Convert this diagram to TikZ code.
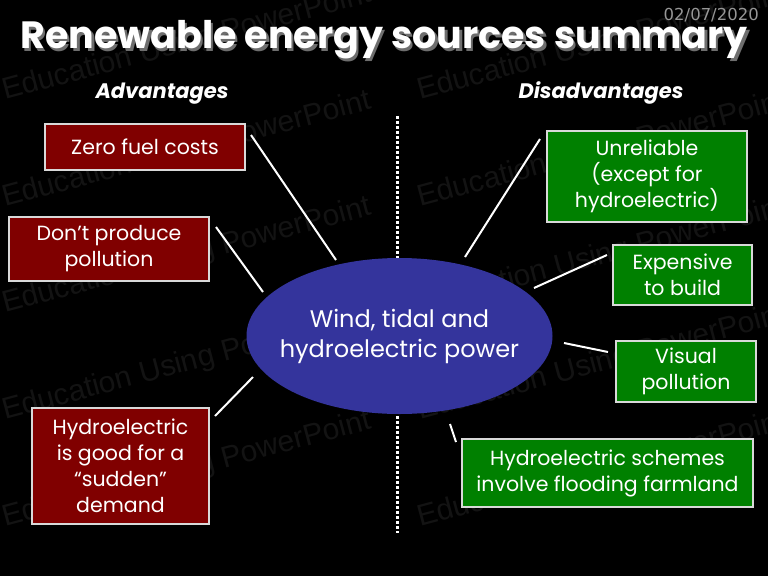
\documentclass[tikz,border=0pt]{standalone}
\usepackage{fontspec}
\setmainfont{Poppins}
\newfontfamily\wmfont{Liberation Sans}
\newfontfamily\datefont{DejaVu Sans}
\usetikzlibrary{calc,shapes.geometric}
\definecolor{boxred}{RGB}{128,0,0}
\definecolor{boxgreen}{RGB}{0,128,0}
\definecolor{ellblue}{RGB}{52,52,156}
\definecolor{wmgray}{RGB}{19,19,19}
\definecolor{dategray}{RGB}{150,150,150}
\definecolor{shadowgray}{RGB}{110,110,110}
\tikzset{
  redbox/.style={draw=white!85!black, line width=2pt, fill=boxred, text=white, align=center, inner sep=0pt, font=\fontsize{20.5}{26}\selectfont},
  greenbox/.style={draw=white!85!black, line width=2pt, fill=boxgreen, text=white, align=center, inner sep=0pt, font=\fontsize{20.5}{26}\selectfont},
  conn/.style={draw=white, line width=2pt},
  heading/.style={text=white, font=\fontsize{21}{25}\selectfont\bfseries\itshape},
  wm/.style={text=wmgray, font=\wmfont\fontsize{30}{30}\selectfont, rotate=15, anchor=base west, inner sep=0pt}
}
\begin{document}
\begin{tikzpicture}[x=1pt,y=-1pt]
\fill[black] (0,0) rectangle (768,576);
\useasboundingbox (0,0) rectangle (768,576);
% watermark
\foreach \wx in {5,420}{
  \foreach \wy in {100,207,313,420,527}{
    \node[wm] at (\wx,\wy) {Education Using PowerPoint};
  }
}
% date
\node[text=dategray, font=\datefont\fontsize{16.5}{16.5}\selectfont, anchor=base east, inner sep=0pt] (date) at (759,20) {02/07/2020};
% title
\node[text=shadowgray, font=\fontsize{38}{40}\selectfont\bfseries, anchor=base, inner sep=0pt] (titleshadow) at (386.5,51) {Renewable energy sources summary};
\node[text=white, font=\fontsize{38}{40}\selectfont\bfseries, anchor=base, inner sep=0pt] (title) at (384,48) {Renewable energy sources summary};
% headings
\node[heading, anchor=base] (adv) at (162,98) {Advantages};
\node[heading, anchor=base] (disadv) at (601,98) {Disadvantages};
% divider
\coordinate (divtop) at (397,116);
\coordinate (divbot) at (397,533);
\draw[white, line width=3pt, dash pattern=on 3pt off 2pt] (divtop) -- (divbot);
% central ellipse
\node[ellipse, fill=ellblue, minimum width=306pt, minimum height=156pt, inner sep=0pt,
  label={[text=white, align=center, font=\fontsize{24}{30}\selectfont, inner sep=0pt]center:Wind, tidal and\\hydroelectric power}] (src) at (399.5,336) {};
% advantage boxes
\node[redbox, minimum width=200pt, minimum height=46pt] (zero) at (145,147) {Zero fuel costs};
\node[redbox, minimum width=200pt, minimum height=64pt] (dont) at (109,249) {Don’t produce\\pollution};
\node[redbox, minimum width=177pt, minimum height=116pt] (sudden) at (120.5,466) {Hydroelectric\\is good for a\\“sudden”\\demand};
% disadvantage boxes
\node[greenbox, minimum width=200pt, minimum height=91pt] (unrel) at (647,176.5) {Unreliable\\(except for\\hydroelectric)};
\node[greenbox, minimum width=139pt, minimum height=60pt] (expens) at (682.5,275) {Expensive\\to build};
\node[greenbox, minimum width=140pt, minimum height=61pt] (visual) at (686,371.5) {Visual\\pollution};
\node[greenbox, minimum width=291pt, minimum height=68pt] (flood) at (607.5,473) {Hydroelectric schemes\\involve flooding farmland};
% connectors
\draw[conn] ($(zero.east)+(5,-12)$) -- ($(src.center)+(-63.5,-76)$);
\draw[conn] ($(dont.east)+(6,-22)$) -- ($(src.center)+(-136.5,-44)$);
\draw[conn] ($(sudden.north east)+(5,9)$) -- ($(src.center)+(-146.5,41)$);
\draw[conn] ($(unrel.west)+(-6,-37.5)$) -- ($(src.center)+(65.5,-79)$);
\draw[conn] ($(expens.west)+(-5,-20)$) -- ($(src.center)+(134.5,-48)$);
\draw[conn] ($(visual.west)+(-7,-19.5)$) -- ($(src.center)+(164.5,7)$);
\draw[conn] ($(flood.north west)+(-5,4)$) -- ($(src.center)+(50.5,88)$);
\end{tikzpicture}
\end{document}
